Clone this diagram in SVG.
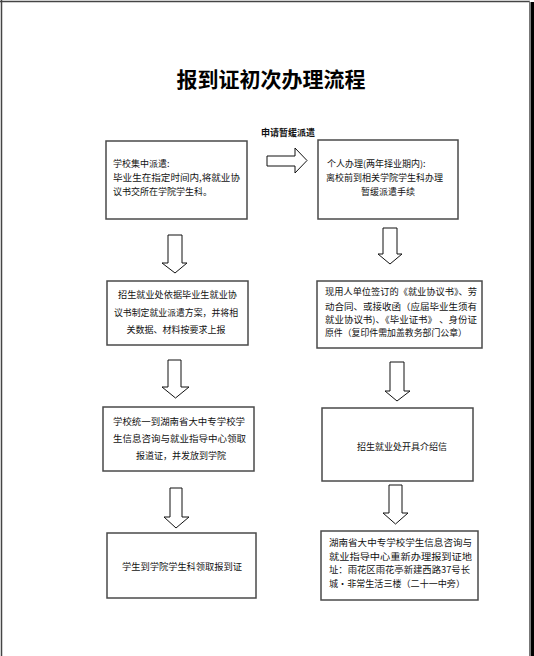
<svg xmlns="http://www.w3.org/2000/svg" width="534" height="656" viewBox="0 0 534 656">
<style>
.box{fill:#fff;stroke:#4a4a4a;stroke-width:1.5}
.arr{fill:#fff;stroke:#111;stroke-width:1}
.t{font-family:"Noto Sans CJK SC","Liberation Serif",serif;font-size:9px;fill:#111}
.c{text-anchor:middle}
.title{font-family:"Noto Sans CJK SC",sans-serif;font-size:21px;font-weight:bold;fill:#000;text-anchor:middle}
</style>
<rect x="0" y="0" width="534" height="656" fill="#fff"/>
<g id="page">
<line x1="1.5" y1="0" x2="1.5" y2="656" stroke="#444" stroke-width="1.5"/>
<line x1="0" y1="1.5" x2="530" y2="1.5" stroke="#444" stroke-width="1.5"/>
<line x1="529.5" y1="1" x2="529.5" y2="656" stroke="#777" stroke-width="1"/>
<rect x="530.5" y="2" width="3.5" height="654" fill="#000"/>
</g>
<text id="title" class="title" x="271" y="87">报到证初次办理流程</text>
<text id="label-defer" class="t" x="288" y="136" text-anchor="middle" font-weight="bold">申请暂缓派遣</text>
<g id="connectors">
<polygon class="arr" points="267,156 295,156 295,148 307,160.5 295,173 295,166 267,166"/>
<polygon class="arr" points="168,235 182,235 182,263 187,263 175,273 162,263 168,263"/>
<polygon class="arr" points="168,360 181,360 181,387 189,387 175.5,398 162,387 168,387"/>
<polygon class="arr" points="170,488 182,488 182,517 189,517 176,528 164,517 170,517"/>
<polygon class="arr" points="383,228 397,228 397,254 402,254 390,264 378,254 383,254"/>
<polygon class="arr" points="390,362 404,362 404,391 410,391 397,401 385,391 390,391"/>
<polygon class="arr" points="389,485 402,485 402,513 408,513 395.5,524 383,513 389,513"/>
</g>
<g id="node1">
<rect class="box" x="106" y="141" width="141" height="78"/>
<text class="t" x="113" y="167">学校集中派遣:</text>
<text class="t" x="113" y="181" textLength="127" lengthAdjust="spacingAndGlyphs">毕业生在指定时间内,将就业协</text>
<text class="t" x="113" y="195">议书交所在学院学生科。</text>
</g>
<g id="node2">
<rect class="box" x="318" y="140" width="140" height="79"/>
<text class="t" x="327" y="167">个人办理(两年择业期内):</text>
<text class="t" x="326" y="181">离校前到相关学院学生科办理</text>
<text class="t c" x="388" y="195">暂缓派遣手续</text>
</g>
<g id="node3">
<rect class="box" x="107" y="281" width="141" height="64"/>
<text class="t c" x="177.5" y="297.5" textLength="119" lengthAdjust="spacingAndGlyphs">招生就业处依据毕业生就业协</text>
<text class="t c" x="176" y="315.5" textLength="124" lengthAdjust="spacingAndGlyphs">议书制定就业派遣方案，并将相</text>
<text class="t c" x="176" y="332.5">关数据、材料按要求上报</text>
</g>
<g id="node4">
<rect class="box" x="317" y="281" width="165" height="67"/>
<text class="t" x="325" y="295" textLength="152" lengthAdjust="spacingAndGlyphs">现用人单位签订的《就业协议书》、劳</text>
<text class="t" x="325" y="309.5" textLength="152" lengthAdjust="spacingAndGlyphs">动合同、或接收函（应届毕业生须有</text>
<text class="t" x="325" y="323" textLength="152" lengthAdjust="spacingAndGlyphs">就业协议书)、《毕业证书》 、身份证</text>
<text class="t" x="325" y="335.5" textLength="142" lengthAdjust="spacingAndGlyphs">原件（复印件需加盖教务部门公章）</text>
</g>
<g id="node5">
<rect class="box" x="103" y="407" width="151" height="64"/>
<text class="t c" x="179" y="424.5" textLength="132" lengthAdjust="spacingAndGlyphs">学校统一到湖南省大中专学校学</text>
<text class="t c" x="179.5" y="441.5" textLength="133" lengthAdjust="spacingAndGlyphs">生信息咨询与就业指导中心领取</text>
<text class="t c" x="181" y="458.5">报道证，并发放到学院</text>
</g>
<g id="node6">
<rect class="box" x="322" y="408" width="151" height="73"/>
<text class="t c" x="402" y="449.5">招生就业处开具介绍信</text>
</g>
<g id="node7">
<rect class="box" x="107" y="533" width="149" height="65"/>
<text class="t c" x="182" y="569.5" textLength="120" lengthAdjust="spacingAndGlyphs">学生到学院学生科领取报到证</text>
</g>
<g id="node8">
<rect class="box" x="321" y="531" width="157" height="69"/>
<text class="t" x="329" y="545.5" textLength="143" lengthAdjust="spacingAndGlyphs">湖南省大中专学校学生信息咨询与</text>
<text class="t" x="329" y="559.5" textLength="143" lengthAdjust="spacingAndGlyphs">就业指导中心重新办理报到证地</text>
<text class="t" x="329" y="572.5" textLength="141" lengthAdjust="spacingAndGlyphs">址：雨花区雨花亭新建西路37号长</text>
<text class="t" x="329" y="586.5" textLength="136" lengthAdjust="spacingAndGlyphs">城·非常生活三楼（二十一中旁）</text>
</g>
</svg>
